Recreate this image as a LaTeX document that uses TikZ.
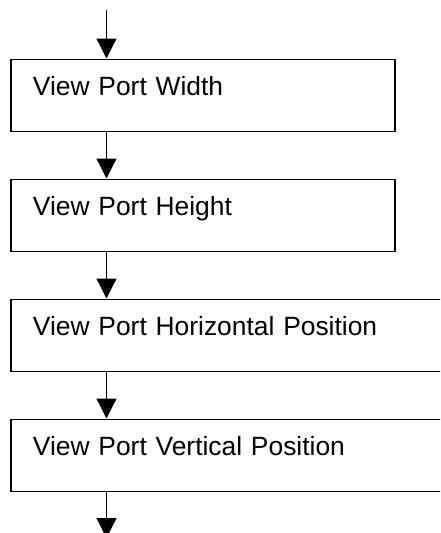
\documentclass[tikz,border=0pt]{standalone}
\usepackage{fontspec}
\setmainfont{Liberation Sans}
\usetikzlibrary{arrows.meta}
\tikzset{
  stepbox/.style={draw=black, line width=1.8pt, anchor=north west, inner xsep=22pt, inner ysep=0pt,
    minimum height=72pt, align=left, text height=20pt, text depth=19pt,
    font=\fontsize{26.4}{30}\selectfont},
  flow/.style={line width=1.2pt, -{Triangle[length=20pt,width=20pt]}}
}
\begin{document}
\begin{tikzpicture}[x=1pt,y=-1pt]
\useasboundingbox (0,0) rectangle (440,533);
\clip (0,0) rectangle (440,533);
\node[stepbox, text width=340pt] (b1) at (10,58.5) {View Port Width};
\node[stepbox, text width=340pt] (b2) at (10,178.5) {View Port Height};
\node[stepbox, text width=420pt] (b3) at (10,298.5) {View Port Horizontal Position};
\node[stepbox, text width=420pt] (b4) at (10,418.5) {View Port Vertical Position};
\coordinate (start) at (106.5,10);
\coordinate (finish) at (106.5,538);
\draw[flow] (start) -- (b1.north -| start);
\draw[flow] (b1.south -| start) -- (b2.north -| start);
\draw[flow] (b2.south -| start) -- (b3.north -| start);
\draw[flow] (b3.south -| start) -- (b4.north -| start);
\draw[flow] (b4.south -| start) -- (finish);
\end{tikzpicture}
\end{document}
